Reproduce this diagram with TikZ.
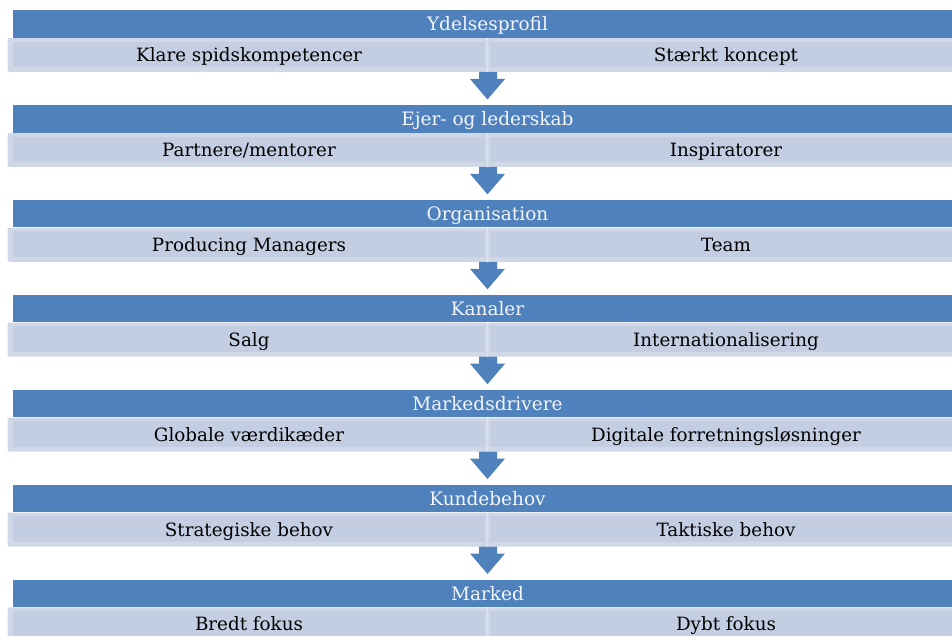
\documentclass[tikz,border=0pt]{standalone}
\usepackage{fontspec}
\setmainfont{DejaVu Serif}
\definecolor{hdr}{HTML}{4F81BD}
\definecolor{subin}{HTML}{C3CEE2}
\definecolor{subout}{HTML}{D0D8E8}
\definecolor{hdrtxt}{HTML}{F2F5FA}
\begin{document}
\begin{tikzpicture}[x=1pt,y=-1pt,
  hdrbox/.style={fill=hdr,draw=none,inner sep=0pt,minimum width=949pt,minimum height=27.5pt,anchor=north west},
  subbox/.style={fill=subin,draw=none,inner sep=0pt,minimum width=472pt,minimum height=25.5pt,anchor=north west},
  hdrlabel/.style={anchor=base,inner sep=0pt,text=hdrtxt,font=\fontsize{18.5}{20}\selectfont},
  sublabel/.style={anchor=base,inner sep=0pt,text=black,font=\fontsize{18.3}{20}\selectfont}]
\useasboundingbox (0,0) rectangle (952,636);
\clip (0,0) rectangle (952,636);
\foreach \i/\h/\l/\r in {0/Ydelsesprofil/Klare spidskompetencer/Stærkt koncept,
  1/Ejer- og lederskab/Partnere\slash mentorer/Inspiratorer,
  2/Organisation/Producing Managers/Team,
  3/Kanaler/Salg/Internationalisering,
  4/Markedsdrivere/Globale værdikæder/Digitale forretningsløsninger,
  5/Kundebehov/Strategiske behov/Taktiske behov,
  6/Marked/Bredt fokus/Dybt fokus}{
  \pgfmathsetmacro{\t}{10+94.9*\i}
  \fill[subout,rounded corners=2pt] (7.5,\t+28) rectangle (487.5,\t+62);
  \fill[subout,rounded corners=2pt] (487.5,\t+28) rectangle (970,\t+62);
  \node[subbox] (L\i) at (13,\t+31.5) {};
  \node[subbox] (R\i) at (490,\t+31.5) {};
  \node[hdrbox] (H\i) at (13,\t) {};
  \node[hdrlabel] (HT\i) at (487.5,\t+21) {\h};
  \node[sublabel] (LT\i) at (249,\t+51.5) {\l};
  \node[sublabel] (RT\i) at (726,\t+51.5) {\r};
}
\foreach \i in {0,...,5}{
  \pgfmathsetmacro{\t}{10+94.9*\i}
  \fill[hdr] (479,\t+62) -- (497,\t+62) -- (497,\t+69) -- (505,\t+69) -- (487.5,\t+89.5) -- (470,\t+69) -- (479,\t+69) -- cycle;
}
\end{tikzpicture}
\end{document}
